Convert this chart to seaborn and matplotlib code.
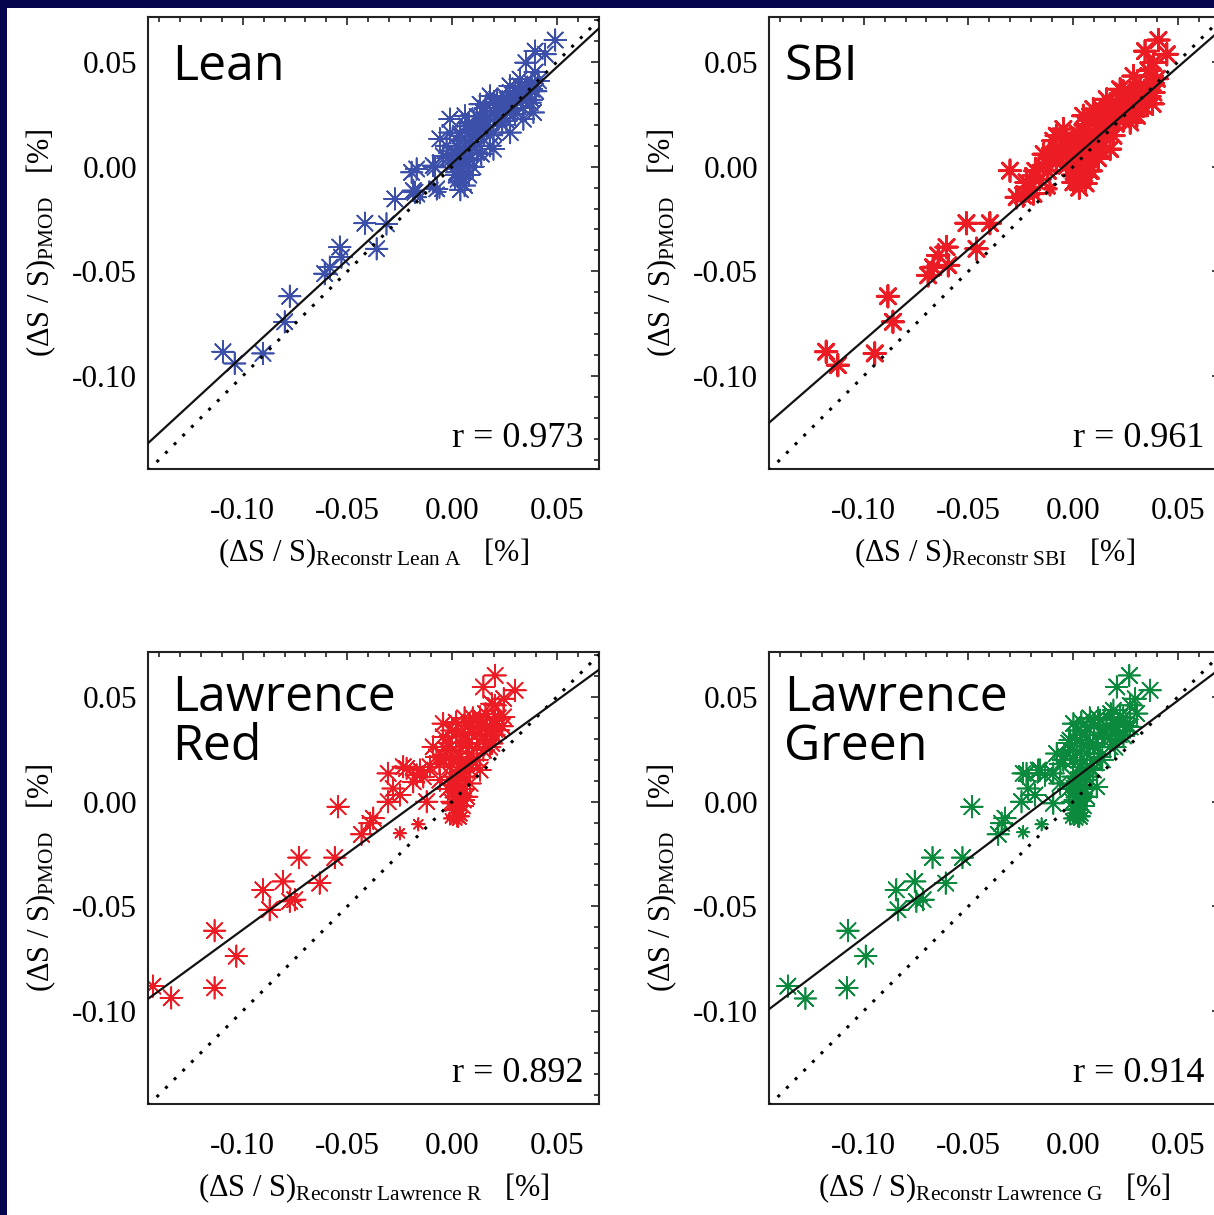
import numpy as np
import pandas as pd
import matplotlib
matplotlib.use("Agg")
import matplotlib.pyplot as plt
import seaborn as sns
from matplotlib.ticker import MultipleLocator, FormatStrFormatter
from matplotlib.patches import Rectangle

# ---------------- data ----------------
titles = ["Lean", "SBI", "Lawrence\nRed", "Lawrence\nGreen"]
r_values = ["0.973", "0.961", "0.892", "0.914"]
x_subscripts = ["Reconstr Lean A", "Reconstr SBI", "Reconstr Lawrence R", "Reconstr Lawrence G"]
fit_slope = [0.92, 0.87, 0.73, 0.755]
fit_intercept = [0.0015, 0.004, 0.0118, 0.0105]
tick_values = [-0.10, -0.05, 0.00, 0.05]

lean_x = [-0.1094, -0.1038, -0.0903, -0.0775, -0.0799, -0.0608, -0.0584, -0.0536, -0.0528, -0.0416,
          -0.0313, -0.0360, -0.0273, -0.0193, -0.0185, -0.0153, -0.0081, -0.0089, -0.0060,
          0.0493, 0.0397, 0.0445, 0.0353, 0.0397,
          0.0413, 0.0325, 0.0277, 0.0182, 0.0134, 0.0062, -0.0010, -0.0026, -0.0042, -0.0090,
          -0.0169, -0.0177, -0.0073, 0.0022, 0.0038, 0.0014, 0.0054, 0.0086, 0.0198, 0.0278,
          0.0373, 0.0389, 0.0341, 0.0222, 0.0118, 0.0070, 0.0150, 0.0214, 0.0278, 0.0325,
          0.0038, 0.0022, 0.0198, 0.0166, 0.0246, 0.0294, 0.0357, 0.0182, 0.0118, -0.0010,
          -0.0058, 0.0030, 0.0050, 0.0060, 0.0040, 0.0070, 0.0095, 0.0105, 0.0260, 0.0310, 0.0380]
lean_y = [-0.0884, -0.0940, -0.0892, -0.0619, -0.0741, -0.0511, -0.0480, -0.0384, -0.0432, -0.0270,
          -0.0273, -0.0392, -0.0154, -0.0027, -0.0114, -0.0146, -0.0003, -0.0098, -0.0120,
          0.0605, 0.0552, 0.0537, 0.0497, 0.0452,
          0.0410, 0.0418, 0.0386, 0.0338, 0.0298, 0.0243, 0.0163, 0.0100, 0.0052, 0.0005,
          -0.0011, -0.0122, -0.0106, -0.0027, -0.0075, -0.0075, 0.0005, 0.0037, 0.0084, 0.0163,
          0.0306, 0.0259, 0.0227, 0.0227, 0.0148, 0.0195, 0.0259, 0.0322, 0.0354, 0.0386,
          0.0148, 0.0100, 0.0163, 0.0195, 0.0290, 0.0275, 0.0354, 0.0100, 0.0068, 0.0227,
          0.0133, -0.0050, -0.0020, -0.0060, 0.0020, 0.0000, 0.0100, 0.0200, 0.0220, 0.0310, 0.0370]
lean_size = ["L"] * 15 + ["S", "L", "S", "S"] + ["L"] * 5 + ["L"] * 14 + ["S", "S"] + ["L"] * 4 + \
            ["L"] * 20 + ["L"] + ["S"] * 5 + ["L"] * 5
# dense core of the Lean cloud
lean_core_x = [0.000, 0.002, 0.004, 0.006, 0.008, 0.010, 0.012, 0.014, 0.016, 0.018, 0.020, 0.022,
               0.024, 0.026, 0.028, 0.030, 0.032, 0.034, 0.036, 0.038, 0.040, 0.030, 0.024, 0.018,
               0.012, 0.006, 0.004, 0.002, 0.006, 0.004, 0.008, 0.001, -0.002, 0.004, 0.008, 0.012,
               0.016, 0.020, 0.010, 0.014, 0.026, 0.034, 0.038]
lean_core_y = [0.004, 0.006, 0.008, 0.010, 0.012, 0.014, 0.017, 0.019, 0.022, 0.024, 0.026, 0.028,
               0.031, 0.033, 0.030, 0.033, 0.035, 0.032, 0.038, 0.040, 0.036, 0.025, 0.020, 0.015,
               0.010, 0.004, 0.000, -0.004, -0.009, -0.011, -0.004, 0.002, 0.004, 0.016, 0.021, 0.024,
               0.028, 0.031, 0.000, 0.006, 0.026, 0.028, 0.032]

sbi_x = [-0.1179, -0.1123, -0.0947, -0.0884, -0.0860, -0.0692, -0.0668, -0.0644, -0.0604, -0.0596,
         -0.0509, -0.0397, -0.0461, -0.0301, -0.0269, -0.0221, -0.0189, -0.0110, -0.0126, -0.0094,
         0.0408, 0.0344, 0.0448, 0.0384, 0.0376,
         0.0384, 0.0289, 0.0225, 0.0161, 0.0097, 0.0049, -0.0046, -0.0078, -0.0110, -0.0142,
         -0.0222, -0.0190, -0.0238, 0.0018, 0.0002, 0.0034, 0.0049, 0.0081, 0.0129, 0.0177,
         0.0193, 0.0273, 0.0336, 0.0305, 0.0241, 0.0177, 0.0113, 0.0034, -0.0014, 0.0065,
         0.0145, 0.0209, 0.0273, 0.0320, 0.0145, 0.0065, 0.0002, -0.0062, -0.0030, 0.0352,
         0.0097, 0.0010, 0.0030, 0.0000, 0.0020, 0.0060, 0.0085]
sbi_y = [-0.0884, -0.0948, -0.0892, -0.0619, -0.0741, -0.0519, -0.0480, -0.0424, -0.0384, -0.0471,
         -0.0270, -0.0270, -0.0392, -0.0019, -0.0146, -0.0098, -0.0129, -0.0106, 0.0013, 0.0124,
         0.0605, 0.0552, 0.0537, 0.0497, 0.0433,
         0.0354, 0.0433, 0.0370, 0.0322, 0.0275, 0.0243, 0.0180, 0.0148, 0.0052, 0.0005,
         -0.0075, -0.0044, -0.0138, -0.0059, -0.0075, -0.0027, 0.0005, 0.0037, 0.0084, 0.0084,
         0.0148, 0.0211, 0.0290, 0.0243, 0.0259, 0.0227, 0.0195, 0.0148, 0.0100, 0.0116,
         0.0163, 0.0306, 0.0354, 0.0386, 0.0259, 0.0195, 0.0132, 0.0068, 0.0005, 0.0338,
         0.0068, -0.0090, -0.0080, -0.0040, 0.0000, -0.0070, -0.0020]
sbi_size = ["L"] * 17 + ["S", "L", "L"] + ["L"] * 5 + ["L"] * 41 + ["S", "S", "L", "L", "S", "L"]
sbi_core_x = [-0.020, -0.016, -0.012, -0.008, -0.006, -0.002, 0.000, 0.002, 0.004, 0.006, 0.008,
              0.010, 0.012, 0.014, 0.016, 0.018, 0.020, 0.022, 0.024, 0.026, 0.028, 0.030, 0.032,
              0.034, 0.036, 0.038, 0.002, 0.006, 0.010, 0.014, 0.018, 0.024, 0.004, 0.006, 0.008,
              0.003, 0.007, 0.012, -0.004, -0.014, -0.018, 0.036, 0.040, 0.038]
sbi_core_y = [-0.010, -0.006, -0.002, 0.002, 0.008, 0.006, 0.010, 0.004, 0.008, 0.006, 0.012,
              0.016, 0.013, 0.020, 0.018, 0.024, 0.021, 0.027, 0.022, 0.030, 0.026, 0.032, 0.029,
              0.036, 0.033, 0.040, 0.016, 0.020, 0.024, 0.027, 0.030, 0.036, -0.004, -0.008, -0.002,
              -0.010, 0.001, 0.004, 0.013, 0.006, -0.002, 0.046, 0.042, 0.030]

red_x = [-0.1429, -0.1341, -0.1134, -0.1134, -0.1030, -0.0903, -0.0871, -0.0807, -0.0775, -0.0751,
         -0.0731, -0.0632, -0.0560, -0.0544, -0.0432, -0.0376, -0.0392, -0.0249, -0.0161, -0.0305,
         -0.0281, -0.0305, -0.0217, -0.0169, -0.0137, -0.0121, -0.0249, -0.0185,
         0.0206, 0.0150, 0.0301, 0.0247, 0.0206,
         0.0198, 0.0134, 0.0222, 0.0158, 0.0094, 0.0070, 0.0022, 0.0038, 0.0094, 0.0150,
         -0.0042, -0.0026, -0.0074, -0.0010, 0.0070, 0.0134, 0.0038, 0.0022, 0.0006, 0.0014,
         -0.0010, 0.0038, 0.0070, 0.0086, 0.0054, 0.0190, -0.0042, -0.0090, -0.0153, -0.0105,
         -0.0058, -0.0233, -0.0010, 0.0086, 0.0166, 0.0246, 0.0190,
         0.0020, 0.0040, 0.0030, 0.0010, 0.0050, 0.0025]
red_y = [-0.0881, -0.0937, -0.0889, -0.0616, -0.0738, -0.0421, -0.0516, -0.0381, -0.0476, -0.0468,
         -0.0267, -0.0389, -0.0267, -0.0024, -0.0156, -0.0079, -0.0103, -0.0151, -0.0108, 0.0135,
         0.0063, 0.0000, 0.0159, 0.0127, 0.0119, 0.0000, 0.0032, 0.0095,
         0.0603, 0.0548, 0.0532, 0.0492, 0.0460,
         0.0389, 0.0405, 0.0341, 0.0314, 0.0330, 0.0278, 0.0330, 0.0214, 0.0230, 0.0246,
         0.0310, 0.0246, 0.0214, 0.0167, 0.0183, 0.0151, 0.0119, 0.0056, -0.0008, -0.0056,
         -0.0080, -0.0040, 0.0024, 0.0087, 0.0008, 0.0278, 0.0373, 0.0262, 0.0151, 0.0167,
         0.0103, 0.0167, 0.0262, 0.0373, 0.0357, 0.0405, 0.0468,
         -0.0030, 0.0000, 0.0030, 0.0080, -0.0070, -0.0090]
red_size = ["L"] * 17 + ["S", "S"] + ["L"] * 9 + ["L"] * 5 + ["L"] * 19 + ["S"] * 3 + \
           ["L"] * 15 + ["S", "S", "L", "L", "S", "S"]
red_core_x = [0.000, 0.002, 0.004, 0.001, 0.003, 0.005, 0.006, 0.002, 0.004, 0.006, 0.008, 0.000,
              0.002, 0.004, 0.006, 0.008, 0.010, 0.012, 0.012, 0.014, 0.016, 0.018, 0.020, 0.022,
              0.024, 0.010, 0.016, 0.000, -0.002, -0.004, -0.006, 0.002, 0.006, 0.012, 0.018, 0.020,
              0.008, 0.004, 0.000, -0.002]
red_core_y = [0.000, 0.002, 0.004, -0.004, -0.007, -0.002, 0.006, 0.010, 0.014, 0.012, 0.016, 0.020,
              0.024, 0.028, 0.032, 0.036, 0.020, 0.026, 0.032, 0.036, 0.030, 0.034, 0.037, 0.040,
              0.036, 0.040, 0.042, 0.034, 0.028, 0.022, 0.018, 0.038, 0.040, 0.020, 0.026, 0.032,
              0.028, 0.018, 0.012, 0.006]

green_x = [-0.1362, -0.1278, -0.1080, -0.1075, -0.0990, -0.0844, -0.0836, -0.0756, -0.0748, -0.0716,
           -0.0671, -0.0608, -0.0528, -0.0483, -0.0357, -0.0325, -0.0341, -0.0238, -0.0150, -0.0238,
           -0.0214, -0.0246, -0.0166, -0.0134, -0.0094, -0.0182,
           0.0269, 0.0209, 0.0368, 0.0297, 0.0273,
           0.0225, 0.0273, 0.0193, 0.0145, 0.0241, 0.0097, 0.0177, 0.0065, 0.0129, 0.0018,
           -0.0014, -0.0046, 0.0034, 0.0097, 0.0065, 0.0018, 0.0010, 0.0002, -0.0014, 0.0042,
           0.0065, 0.0113, 0.0002, -0.0014, -0.0078, -0.0094, -0.0158, -0.0222, -0.0062, 0.0065,
           0.0129, 0.0193, 0.0304,
           0.0020, 0.0040, 0.0030, 0.0010, 0.0050, 0.0025]
green_y = [-0.0881, -0.0940, -0.0889, -0.0616, -0.0738, -0.0421, -0.0516, -0.0381, -0.0476, -0.0468,
           -0.0267, -0.0389, -0.0267, -0.0024, -0.0156, -0.0079, -0.0103, -0.0146, -0.0108, 0.0135,
           0.0063, 0.0000, 0.0151, 0.0127, -0.0008, 0.0032,
           0.0603, 0.0548, 0.0532, 0.0492, 0.0460,
           0.0405, 0.0357, 0.0373, 0.0330, 0.0314, 0.0278, 0.0262, 0.0230, 0.0214, 0.0294,
           0.0246, 0.0198, 0.0167, 0.0151, 0.0103, 0.0056, 0.0008, -0.0056, -0.0080, -0.0040,
           0.0024, 0.0071, 0.0373, 0.0294, 0.0230, 0.0135, 0.0151, 0.0135, 0.0087, 0.0357,
           0.0389, 0.0437, 0.0421,
           -0.0030, 0.0000, 0.0030, 0.0080, -0.0070, -0.0090]
green_size = ["L"] * 17 + ["S", "S"] + ["L"] * 7 + ["L"] * 5 + ["L"] * 17 + ["S"] * 3 + \
             ["L"] * 13 + ["S", "S", "L", "L", "S", "S"]
green_core_x = [0.000, 0.002, 0.004, 0.001, 0.003, 0.005, 0.006, 0.002, 0.004, 0.006, 0.008, 0.000,
                0.002, 0.004, 0.006, 0.010, 0.010, 0.012, 0.014, 0.016, 0.018, 0.020, 0.022, 0.024,
                0.026, 0.012, 0.018, 0.002, -0.002, -0.004, -0.006, 0.004, 0.008, 0.014, 0.020, 0.022,
                0.008, 0.004, 0.000, -0.002]
green_core_y = [0.000, 0.002, 0.004, -0.004, -0.007, -0.002, 0.006, 0.010, 0.014, 0.012, 0.016, 0.020,
                0.024, 0.028, 0.032, 0.036, 0.020, 0.026, 0.032, 0.036, 0.030, 0.034, 0.037, 0.040,
                0.036, 0.040, 0.042, 0.034, 0.028, 0.022, 0.018, 0.038, 0.040, 0.020, 0.026, 0.032,
                0.028, 0.018, 0.012, 0.006]

colors = ["#3c50aa", "#ec1c24", "#ec1c24", "#0b8a3e"]
marker_lw = [1.2, 2.0, 1.2, 1.2]

# ---------------- styling ----------------
sns.set_theme(style="white")
plt.rcParams.update({
    "font.family": ["Liberation Serif", "DejaVu Serif"],
    "mathtext.fontset": "custom",
    "mathtext.rm": "Liberation Serif",
    "mathtext.it": "Liberation Serif:italic",
    "mathtext.bf": "Liberation Serif:bold",
    "axes.unicode_minus": False,
})

W, H = 1214, 1215
fig = plt.figure(figsize=(W / 100, H / 100), dpi=100)
fig.patch.set_facecolor("#05054d")
fig.add_artist(Rectangle((7 / W, 0), 1, 1 - 8 / H, transform=fig.transFigure,
                         facecolor="white", edgecolor="none", zorder=-10))

# axes boxes in pixels: (left, top)
boxes = [(148, 17), (769, 17), (148, 652), (769, 652)]
box_w, box_h = 451, 452
xlim = (-0.1452, 0.0702)
ylim = (-0.1444, 0.0715)
title_x = [0.054, 0.034, 0.054, 0.034]

data_sets = [(lean_x, lean_y, lean_size, lean_core_x, lean_core_y),
             (sbi_x, sbi_y, sbi_size, sbi_core_x, sbi_core_y),
             (red_x, red_y, red_size, red_core_x, red_core_y),
             (green_x, green_y, green_size, green_core_x, green_core_y)]

for i, (xs, ys, ss, cx, cy) in enumerate(data_sets):
    left, top = boxes[i]
    ax = fig.add_axes([left / W, 1 - (top + box_h) / H, box_w / W, box_h / H])
    ax.set_facecolor("white")
    df = pd.DataFrame({"x": list(xs) + list(cx), "y": list(ys) + list(cy),
                       "sz": list(ss) + ["L"] * len(cx)})
    sns.scatterplot(data=df, x="x", y="y", size="sz", sizes={"L": 240, "S": 80},
                    marker=(8, 2, 0), color=colors[i], linewidth=marker_lw[i],
                    legend=False, ax=ax, zorder=2)
    lx = np.array(xlim)
    sns.lineplot(x=lx, y=lx, color="black", linewidth=2.2, linestyle=(0, (1, 3)),
                 ax=ax, zorder=3)
    sns.lineplot(x=lx, y=fit_slope[i] * lx + fit_intercept[i], color="#111111",
                 linewidth=1.6, ax=ax, zorder=4)
    ax.set_xlim(xlim)
    ax.set_ylim(ylim)
    ax.set_xticks(tick_values)
    ax.set_yticks(tick_values)
    ax.xaxis.set_major_formatter(FormatStrFormatter("%.2f"))
    ax.yaxis.set_major_formatter(FormatStrFormatter("%.2f"))
    ax.xaxis.set_minor_locator(MultipleLocator(0.01))
    ax.yaxis.set_minor_locator(MultipleLocator(0.01))
    ax.tick_params(which="both", direction="in", top=True, right=True,
                   color="#222222", width=1.2, labelsize=22.5, labelcolor="black")
    ax.tick_params(which="major", length=6)
    ax.tick_params(which="minor", length=3.5)
    ax.tick_params(axis="x", pad=20)
    ax.tick_params(axis="y", pad=8)
    for sp in ax.spines.values():
        sp.set_linewidth(1.5)
        sp.set_color("#222222")
        sp.set_visible(True)

    sub = x_subscripts[i].replace(" ", r"\ ")
    ax.set_xlabel("(ΔS / S)$_{\\mathrm{" + sub + "}}$   [%]", fontsize=22, color="black")
    ax.set_ylabel("(ΔS / S)$_{\\mathrm{PMOD}}$   [%]", fontsize=22, color="black")
    ax.xaxis.set_label_coords(0.5, -0.150)
    ax.yaxis.set_label_coords(-0.200, 0.5)

    lines = titles[i].split("\n")
    base_y = [0.861, 0.752] if i < 2 else [0.869, 0.760]
    for k, line in enumerate(lines):
        ax.text(title_x[i], base_y[k], line, transform=ax.transAxes, fontsize=36,
                family="Open Sans", va="baseline", ha="left", color="black")
    ax.text(0.965, 0.049, "r = " + r_values[i], transform=ax.transAxes, fontsize=26,
            ha="right", va="baseline", color="black")

fig.savefig("out.png", dpi=100, facecolor=fig.get_facecolor())
